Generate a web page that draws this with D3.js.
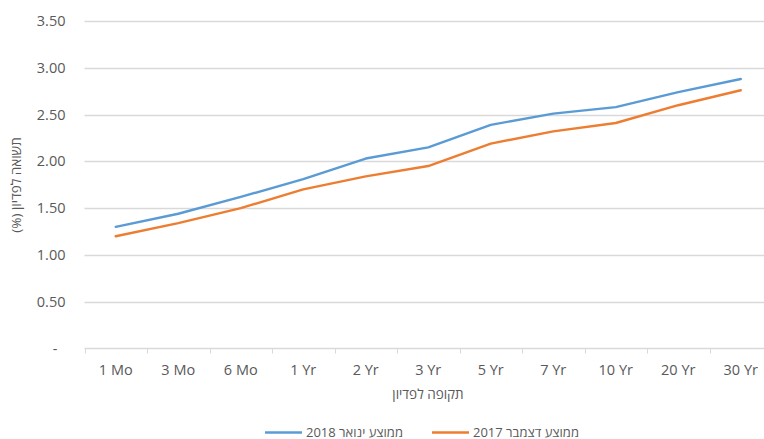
<!DOCTYPE html>
<html>
<head>
<meta charset="utf-8">
<script src="https://cdn.jsdelivr.net/npm/d3@7"></script>
<style>
  html, body { margin: 0; padding: 0; background: #fff; }
  svg { display: block; }
  text { font-family: "Open Sans", "DejaVu Sans", sans-serif; fill: #595959; }
</style>
</head>
<body>
<svg id="chart" width="764" height="439"></svg>
<script>
// Maturities on the x axis
const maturities = ["1 Mo", "3 Mo", "6 Mo", "1 Yr", "2 Yr", "3 Yr", "5 Yr", "7 Yr", "10 Yr", "20 Yr", "30 Yr"];
// Average yields, January 2018 (%)
const jan2018 = [1.30, 1.44, 1.62, 1.81, 2.03, 2.15, 2.39, 2.51, 2.58, 2.74, 2.88];
// Average yields, December 2017 (%)
const dec2017 = [1.20, 1.34, 1.50, 1.70, 1.84, 1.95, 2.19, 2.32, 2.41, 2.60, 2.76];
// Y axis ticks
const yTicks = [0, 0.5, 1.0, 1.5, 2.0, 2.5, 3.0, 3.5];

const seriesNames = ["ממוצע ינואר 2018", "ממוצע דצמבר 2017"];
const seriesColors = ["#5B9BD5", "#ED7D31"];
const series = [jan2018, dec2017];

const svg = d3.select("#chart");
const plotLeft = 84.5, plotRight = 772, plotTop = 21, plotBottom = 348.5;

const x = d3.scaleBand().domain(maturities).range([plotLeft, plotRight]).padding(0);
const y = d3.scaleLinear().domain([0, 3.5]).range([plotBottom, plotTop]);

// Horizontal gridlines
svg.append("g")
  .selectAll("line")
  .data(yTicks.filter(d => d > 0))
  .join("line")
  .attr("x1", plotLeft).attr("x2", plotRight)
  .attr("y1", d => Math.round(y(d)) + 0.5).attr("y2", d => Math.round(y(d)) + 0.5)
  .attr("stroke", "#d9d9d9").attr("stroke-width", 1.3);

// Y axis labels
const yAxis = svg.append("g")
  .attr("transform", `translate(${plotLeft},0)`)
  .call(d3.axisLeft(y).tickValues(yTicks)
    .tickFormat(d => d === 0 ? "-" : d.toFixed(2))
    .tickSize(0).tickPadding(19));
yAxis.select(".domain").remove();
yAxis.selectAll("text")
  .attr("font-size", 14.5)
  .attr("font-family", "Open Sans")
  .attr("fill", "#595959")
  .attr("x", d => d === 0 ? -27 : -19);

// X axis with boundary tick marks
const xAxisG = svg.append("g").attr("transform", `translate(0,${Math.round(plotBottom) - 0.5})`);
xAxisG.append("line")
  .attr("x1", plotLeft).attr("x2", plotRight)
  .attr("stroke", "#d9d9d9").attr("stroke-width", 1.3);
xAxisG.selectAll("line.tick")
  .data(maturities)
  .join("line")
  .attr("class", "tick")
  .attr("x1", d => Math.round(x(d)) + 0.5).attr("x2", d => Math.round(x(d)) + 0.5)
  .attr("y1", 0).attr("y2", 5)
  .attr("stroke", "#d9d9d9").attr("stroke-width", 1);
xAxisG.selectAll("text")
  .data(maturities)
  .join("text")
  .attr("x", d => x(d) + x.bandwidth() / 2)
  .attr("y", 26)
  .attr("text-anchor", "middle")
  .attr("font-size", 14.5)
  .text(d => d);

// Series lines
const line = d3.line()
  .x((d, i) => x(maturities[i]) + x.bandwidth() / 2)
  .y(d => y(d));

svg.append("g")
  .selectAll("path")
  .data(series)
  .join("path")
  .attr("d", d => line(d))
  .attr("fill", "none")
  .attr("stroke", (d, i) => seriesColors[i])
  .attr("stroke-width", 2.4)
  .attr("stroke-linejoin", "round")
  .attr("stroke-linecap", "round");

// Axis titles
svg.append("text")
  .attr("transform", "translate(21,185) rotate(-90)")
  .attr("text-anchor", "middle")
  .attr("direction", "rtl")
  .attr("font-size", 13.5)
  .text("תשואה לפדיון (%)");

svg.append("text")
  .attr("x", 428).attr("y", 399)
  .attr("text-anchor", "middle")
  .attr("direction", "rtl")
  .attr("font-size", 13.5)
  .text("תקופה לפדיון");

// Legend
const legendX = [265, 432];
const legend = svg.append("g")
  .selectAll("g")
  .data(seriesNames)
  .join("g")
  .attr("transform", (d, i) => `translate(${legendX[i]},430)`);
legend.append("line")
  .attr("x1", 0).attr("x2", 37)
  .attr("y1", 2.5).attr("y2", 2.5)
  .attr("stroke", (d, i) => seriesColors[i])
  .attr("stroke-width", 2.4);
legend.append("text")
  .attr("x", 41).attr("y", 6.5)
  .attr("direction", "rtl")
  .attr("text-anchor", "end")
  .attr("font-size", 13)
  .text(d => d);
</script>
</body>
</html>
